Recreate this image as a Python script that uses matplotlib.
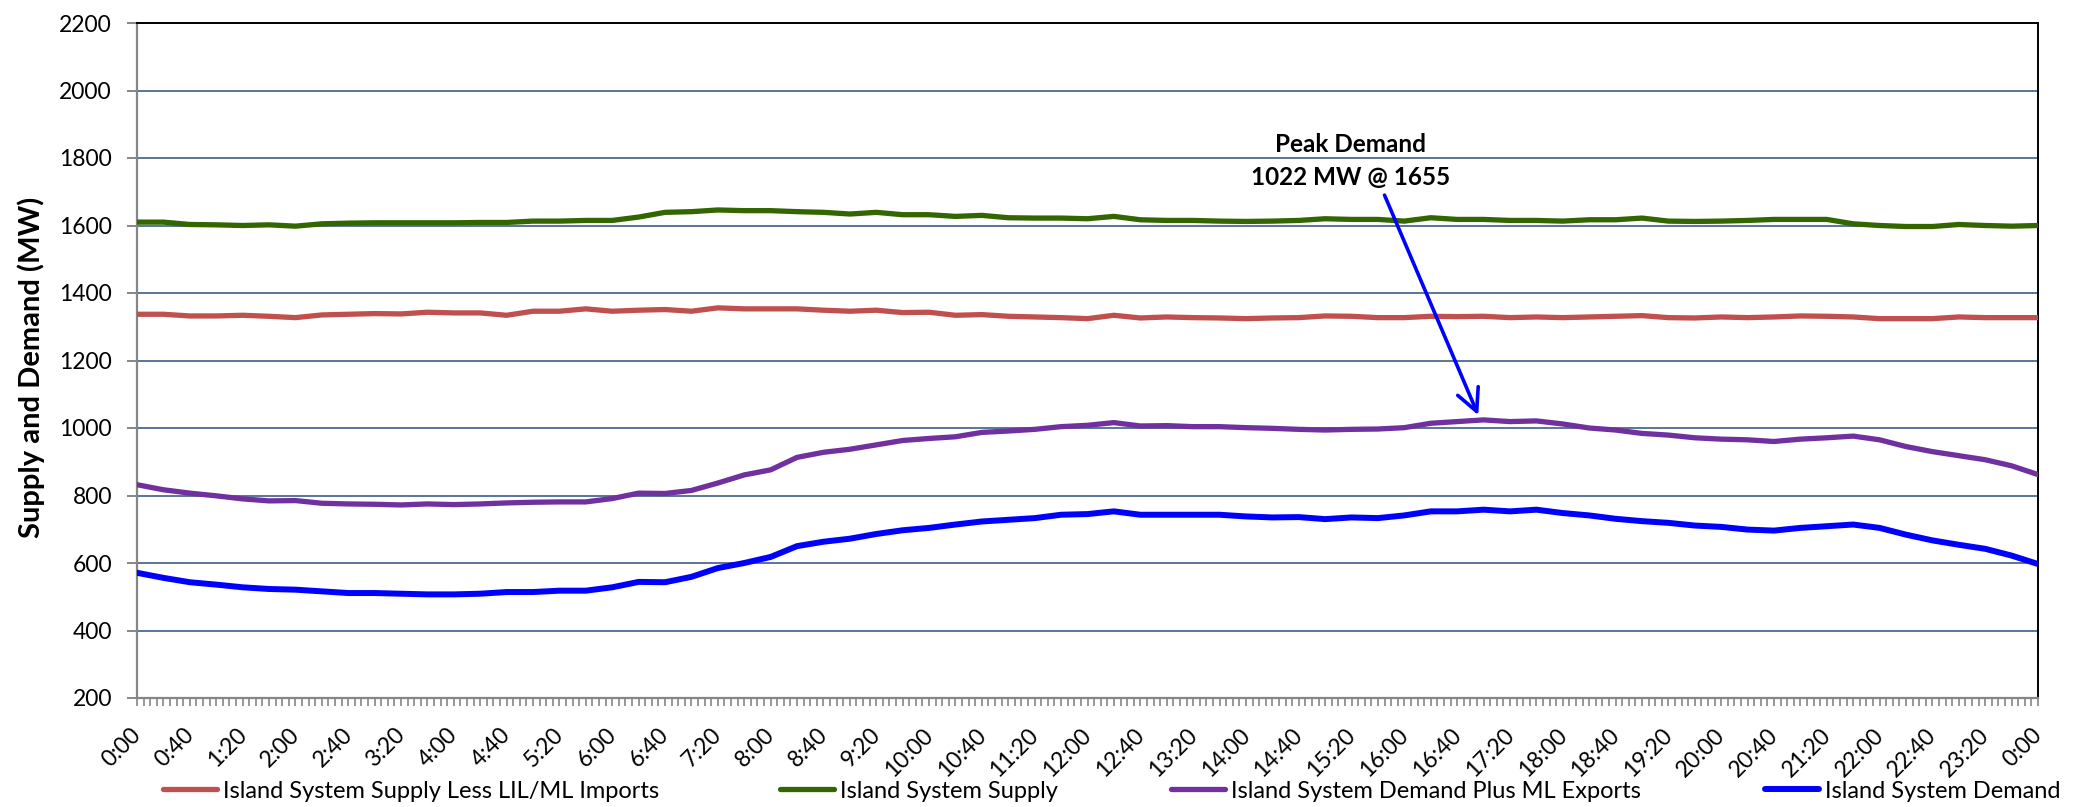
#!/usr/bin/env python3
"""
Island system supply and demand over one day (5-minute SCADA readings, read at 20-min steps).
"""

import numpy as np
import matplotlib
matplotlib.use("Agg")
import matplotlib.pyplot as plt
import matplotlib.transforms as mtransforms
from matplotlib.ticker import MultipleLocator, FixedLocator

plt.rcParams['font.family'] = ['Lato', 'DejaVu Sans']

# minutes after midnight, one reading every 20 min
minutes = np.arange(0, 1441, 20)

supply_less_imports = [
    1337, 1337, 1332, 1332, 1334, 1331, 1327, 1335, 1337, 1339, 1338,
    1343, 1341, 1341, 1334, 1346, 1346, 1353, 1346, 1349, 1351,
    1346, 1356, 1353, 1353, 1353, 1349, 1346, 1349, 1342, 1343,
    1334, 1336, 1331, 1329, 1327, 1324, 1334, 1326, 1329, 1327,
    1326, 1324, 1326, 1327, 1332, 1331, 1327, 1327, 1331, 1330,
    1331, 1327, 1329, 1327, 1329, 1331, 1333, 1327, 1326, 1329,
    1327, 1329, 1332, 1331, 1329, 1324, 1324, 1324, 1329, 1327, 1327, 1327,
]
system_supply = [
    1610, 1610, 1603, 1602, 1600, 1602, 1598, 1605, 1607, 1608, 1608,
    1608, 1608, 1609, 1609, 1613, 1613, 1615, 1615, 1625, 1639,
    1641, 1646, 1644, 1644, 1641, 1639, 1634, 1639, 1632, 1632,
    1627, 1630, 1623, 1622, 1622, 1620, 1627, 1617, 1615, 1615,
    1613, 1612, 1613, 1615, 1620, 1618, 1618, 1613, 1623, 1618,
    1618, 1615, 1615, 1613, 1617, 1617, 1622, 1613, 1612, 1613,
    1615, 1618, 1618, 1618, 1605, 1600, 1597, 1597, 1603, 1600, 1598, 1600,
]
demand_plus_exports = [
    832, 817, 807, 799, 790, 784, 785, 777, 775, 774, 772,
    775, 773, 775, 778, 780, 781, 781, 791, 807, 806,
    815, 837, 861, 876, 913, 928, 937, 950, 963, 969,
    974, 987, 991, 996, 1004, 1008, 1016, 1006, 1007, 1004,
    1004, 1001, 999, 996, 994, 996, 997, 1001, 1014, 1019,
    1024, 1019, 1021, 1012, 1000, 994, 984, 979, 971, 967,
    965, 960, 967, 971, 976, 965, 945, 930, 918, 906, 888, 862,
]
system_demand = [
    571, 556, 543, 536, 528, 523, 521, 516, 511, 511, 509,
    507, 507, 509, 514, 514, 518, 518, 528, 544, 543,
    559, 585, 600, 618, 650, 663, 672, 686, 697, 704,
    714, 723, 728, 733, 743, 745, 753, 743, 743, 743,
    743, 738, 735, 736, 730, 735, 733, 741, 753, 753,
    758, 753, 758, 748, 741, 731, 724, 719, 711, 707,
    699, 696, 704, 709, 714, 704, 684, 667, 654, 642, 622, 597,
]

series_names = [
    'Island System Supply Less LIL/ML Imports',
    'Island System Supply',
    'Island System Demand Plus ML Exports',
    'Island System Demand',
]
series_colors = ['#C0504D', '#336600', '#7030A0', '#0000FF']

tick_minutes = np.arange(0, 1441, 40)
tick_labels = ['%d:%02d' % ((m // 60) % 24, m % 60) for m in tick_minutes]

peak_label = 'Peak Demand\n1022 MW @ 1655'
peak_time, peak_value = 1016, 1038

fig = plt.figure(figsize=(20.78, 8.07), dpi=100)
W, H = 2078, 807
ax = fig.add_axes([137 / W, 1 - 698 / H, (2038 - 137) / W, (698 - 23) / H])

lines = []
for vals, name, col in zip(
        [supply_less_imports, system_supply, demand_plus_exports, system_demand],
        series_names, series_colors):
    lw = 4.3 if col == '#0000FF' else 3.8
    ln, = ax.plot(minutes, vals, color=col, lw=lw, label=name,
                  solid_capstyle='round', solid_joinstyle='round', zorder=3)
    lines.append(ln)

ax.set_xlim(0, 1440)
ax.set_ylim(200, 2200)
ax.yaxis.set_major_locator(MultipleLocator(200))
ax.xaxis.set_major_locator(FixedLocator(tick_minutes))
ax.xaxis.set_minor_locator(MultipleLocator(5))
ax.set_xticklabels(tick_labels)

ax.grid(axis='y', color='#2C4F7C', lw=1.1, zorder=1)
ax.set_axisbelow(True)

for side in ['left', 'bottom']:
    ax.spines[side].set_color('#868686')
    ax.spines[side].set_linewidth(1.6)
for side in ['top', 'right']:
    ax.spines[side].set_color('#000000')
    ax.spines[side].set_linewidth(1.4)

ax.tick_params(axis='y', direction='out', length=7, width=1.4, color='#868686',
               labelsize=16.5, pad=11)
ax.tick_params(axis='x', which='both', direction='out', length=6, width=1.2,
               color='#868686', labelsize=16.5, pad=13)
shift = mtransforms.ScaledTranslation(8 / 100, 0, fig.dpi_scale_trans)
for lab in ax.get_xticklabels():
    lab.set_rotation(45)
    lab.set_ha('right')
    lab.set_va('top')
    lab.set_transform(lab.get_transform() + shift)

ax.set_ylabel('Supply and Demand (MW)', fontsize=21, fontweight='bold')
ax.yaxis.set_label_coords((45 - 137) / (2038 - 137), 0.49)

ax.annotate('', xy=(peak_time, peak_value), xytext=(945, 1690),
            arrowprops=dict(arrowstyle='->,head_length=0.8,head_width=0.4',
                            color='#0000FF', lw=2.6, mutation_scale=20,
                            shrinkA=0, shrinkB=0), zorder=5)
ax.text(919, 1791, peak_label, ha='center', va='center', fontsize=17.5,
        fontweight='bold', linespacing=1.5, zorder=5)

# legend entries sit at fixed spots along the bottom, like the source chart
legend_x = [163, 780, 1171, 1765]
for ln, name, lx in zip(lines, series_names, legend_x):
    fig.legend([ln], [name], loc='center left', bbox_to_anchor=(lx / W, 1 - 791 / H),
               frameon=False, fontsize=17, handlelength=2.3, handletextpad=0.25,
               borderpad=0, borderaxespad=0)

fig.savefig('out.png', dpi=100)
